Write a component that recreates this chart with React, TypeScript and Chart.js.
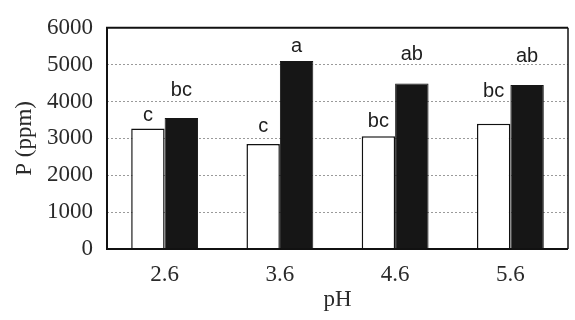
import React, { useEffect, useRef } from 'react';
import { Chart, registerables } from 'chart.js';

Chart.register(...registerables);

const categories = ['2.6', '3.6', '4.6', '5.6'];
const whiteValues = [3270, 2850, 3060, 3400];
const blackValues = [3550, 5100, 4490, 4450];
const whiteLetters = ['c', 'c', 'bc', 'bc'];
const blackLetters = ['bc', 'a', 'ab', 'ab'];
const yTickValues = [0, 1000, 2000, 3000, 4000, 5000, 6000];
const yTickLabels = ['0', '1000', '2000', '3000', '4000', '5000', '6000'];

// pixel lift of each letter above its bar (style only)
const whiteLift = [7, 12, 9, 27];
const blackLift = [22, 9, 23, 23];

const SERIF = '"Liberation Serif", "DejaVu Serif", serif';
const SANS = '"Liberation Sans", Arial, sans-serif';

const lettersPlugin = {
  id: 'letters',
  afterDatasetsDraw(chart: any) {
    const ctx = chart.ctx;
    ctx.save();
    ctx.font = `20px ${SANS}`;
    ctx.fillStyle = '#1e1e1e';
    ctx.textAlign = 'center';
    ctx.textBaseline = 'alphabetic';
    const sets = [
      { letters: whiteLetters, lift: whiteLift },
      { letters: blackLetters, lift: blackLift },
    ];
    sets.forEach((s, di) => {
      const meta = chart.getDatasetMeta(di);
      meta.data.forEach((bar: any, i: number) => {
        ctx.fillText(s.letters[i], bar.x, bar.y - s.lift[i]);
      });
    });
    ctx.restore();
  },
};

const framePlugin = {
  id: 'frame',
  afterDatasetsDraw(chart: any) {
    const { left, top, right, bottom } = chart.chartArea;
    const ctx = chart.ctx;
    ctx.save();
    ctx.strokeStyle = '#111';
    ctx.lineWidth = 2;
    ctx.beginPath();
    ctx.moveTo(right, top);
    ctx.lineTo(left, top);
    ctx.lineTo(left, bottom);
    ctx.lineTo(right, bottom);
    ctx.stroke();
    ctx.lineWidth = 1.5;
    ctx.beginPath();
    ctx.moveTo(right, top);
    ctx.lineTo(right, bottom);
    ctx.stroke();
    ctx.restore();
  },
};

export default function App() {
  const ref = useRef<HTMLCanvasElement | null>(null);

  useEffect(() => {
    if (!ref.current) return;
    const chart = new Chart(ref.current, {
      type: 'bar',
      data: {
        labels: categories,
        datasets: [
          {
            label: 'white',
            data: whiteValues,
            backgroundColor: '#ffffff',
            borderColor: '#111111',
            borderWidth: 1.5,
            categoryPercentage: 0.58,
            barPercentage: 1,
          },
          {
            label: 'black',
            data: blackValues,
            backgroundColor: '#161616',
            borderColor: '#161616',
            borderWidth: 1,
            categoryPercentage: 0.58,
            barPercentage: 1,
          },
        ],
      },
      options: {
        responsive: false,
        animation: false,
        layout: { padding: { left: 0, right: 7, top: 17, bottom: 0 } },
        plugins: {
          legend: { display: false },
          tooltip: { enabled: false },
        },
        scales: {
          x: {
            grid: { display: false, drawTicks: false },
            border: { display: false },
            ticks: {
              font: { family: SERIF, size: 23 },
              color: '#2a2a2a',
              padding: 12,
            },
            title: {
              display: true,
              text: 'pH',
              font: { family: SERIF, size: 23 },
              color: '#2a2a2a',
              padding: { top: 0, bottom: 6 },
            },
            afterFit: (s: any) => {
              s.height = 71;
            },
          },
          y: {
            min: 0,
            max: 6000,
            afterBuildTicks: (s: any) => {
              s.ticks = yTickValues.map((v) => ({ value: v }));
            },
            ticks: {
              font: { family: SERIF, size: 23 },
              color: '#2a2a2a',
              padding: 14,
              callback: (v: any) => {
                const i = yTickValues.indexOf(Number(v));
                return i >= 0 ? yTickLabels[i] : String(v);
              },
            },
            grid: {
              drawTicks: false,
              lineWidth: 1,
              color: (c: any) =>
                c.tick && (c.tick.value === 0 || c.tick.value === 6000) ? 'rgba(0,0,0,0)' : '#9a9a9a',
            },
            border: { display: false, dash: [2, 2] },
            title: {
              display: true,
              text: 'P (ppm)',
              font: { family: SERIF, size: 23 },
              color: '#2a2a2a',
              padding: { top: 11, bottom: 0 },
            },
            afterFit: (s: any) => {
              s.width = 107;
            },
          },
        },
      },
      plugins: [lettersPlugin, framePlugin],
    });
    return () => chart.destroy();
  }, []);

  return (
    <div style={{ position: 'fixed', left: 0, top: 0, width: 575, height: 320, background: '#fff' }}>
      <canvas ref={ref} width={575} height={320} style={{ display: 'block' }} />
    </div>
  );
}
